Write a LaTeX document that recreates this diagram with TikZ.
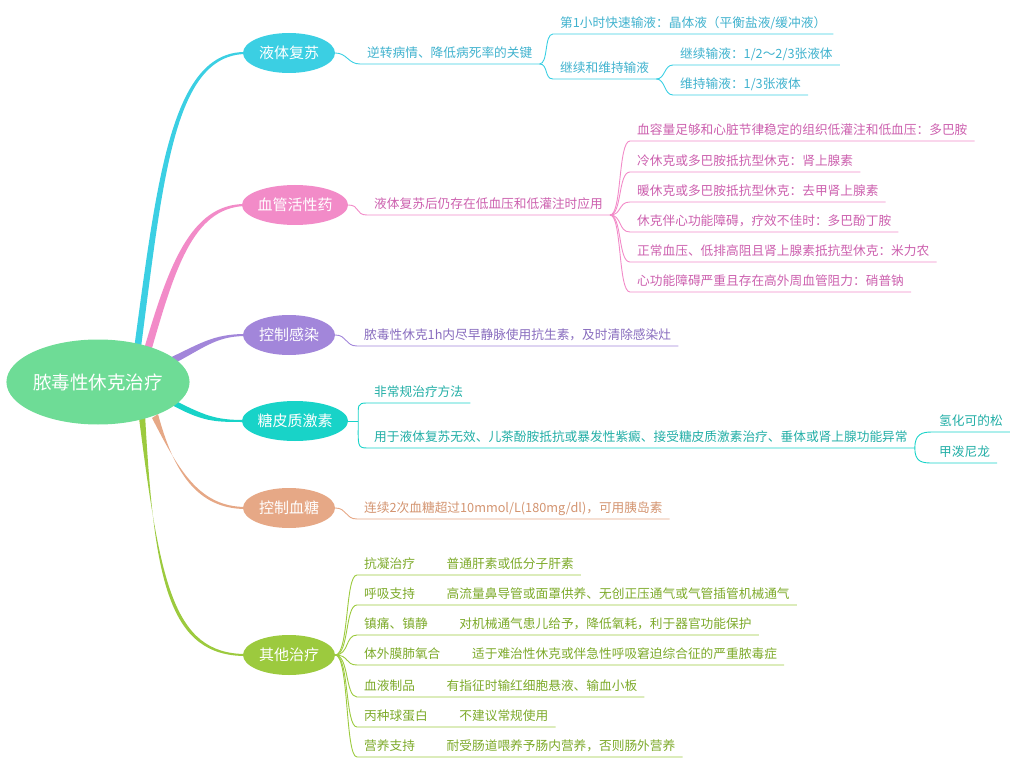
\documentclass[tikz,border=0pt]{standalone}
\usepackage{fontspec}
\setmainfont{Noto Sans CJK SC}
\usepackage{tikz}
\usepackage{xcolor}
\usetikzlibrary{shapes.geometric,calc,backgrounds}

\definecolor{rootC}{HTML}{6EDC96}
\definecolor{cyanC}{HTML}{3BCFE3}
\definecolor{cyanT}{HTML}{40B2CE}
\definecolor{pinkC}{HTML}{F28BC8}
\definecolor{pinkT}{HTML}{CC60AE}
\definecolor{purpC}{HTML}{A286DA}
\definecolor{purpT}{HTML}{886CBE}
\definecolor{tealC}{HTML}{18D3C8}
\definecolor{tealT}{HTML}{22AEA6}
\definecolor{salmC}{HTML}{E6A886}
\definecolor{salmT}{HTML}{D39470}
\definecolor{grenC}{HTML}{9CCA3E}
\definecolor{grenT}{HTML}{7DAA2A}

\begin{document}
\begin{tikzpicture}[x=1pt,y=-1pt]
    % Define node shapes
    \tikzstyle{root}=[ellipse, fill=rootC, text=white, inner sep=0pt, minimum width=170pt, minimum height=85pt, font=\fontsize{18.5}{20}\selectfont]
    \tikzstyle{topic}=[ellipse, text=white, inner sep=0pt, minimum height=40pt, font=\fontsize{15}{17}\selectfont]
    \tikzstyle{leaf}=[anchor=south west, inner xsep=7pt, inner ysep=3pt, text height=10pt, text depth=3pt, font=\fontsize{12.7}{14}\selectfont]
    \tikzstyle{link}=[line width=0.9pt]
    \useasboundingbox (0,0) rectangle (1019,767);

    % Place root and topics
    \node[root] (root) at (98,382) {脓毒性休克治疗};
    \node[topic, fill=cyanC, minimum width=92pt] (t1) at (289,53) {液体复苏};
    \node[topic, fill=pinkC, minimum width=104pt] (t2) at (295,205) {血管活性药};
    \node[topic, fill=purpC, minimum width=92pt] (t3) at (289,335) {控制感染};
    \node[topic, fill=tealC, minimum width=104pt] (t4) at (295,421) {糖皮质激素};
    \node[topic, fill=salmC, minimum width=92pt] (t5) at (289,508) {控制血糖};
    \node[topic, fill=grenC, minimum width=92pt] (t6) at (289,655) {其他治疗};

    % Thick tapered branches
    \begin{scope}[on background layer]
        \coordinate (s1) at (137,352);
        \coordinate (s2) at (147,352);
        \coordinate (s3) at (165,364);
        \coordinate (s4) at (168,400);
        \coordinate (s5) at (155,416);
        \coordinate (s6) at (142,416);
        \fill[cyanC] ($(s1)+(-3,-3)$) .. controls (157,180) and (171,51) .. ($(t1.west)+(3,-1)$) -- ($(t1.west)+(3,1)$) .. controls (173,55) and (163,180) .. ($(s1)+(3,3)$) -- cycle;
        \fill[pinkC] ($(s2)+(-3,-3)$) .. controls (168,268) and (190,204) .. ($(t2.west)+(3,-1)$) -- ($(t2.west)+(3,1)$) .. controls (192,208) and (174,272) .. ($(s2)+(3,3)$) -- cycle;
        \fill[purpC] ($(s3)+(-2,-3)$) .. controls (200,344) and (212,334) .. ($(t3.west)+(3,-1)$) -- ($(t3.west)+(3,1)$) .. controls (214,336) and (202,350) .. ($(s3)+(2,3)$) -- cycle;
        \fill[tealC] ($(s4)+(0,-3)$) .. controls (205,416) and (215,420) .. ($(t4.west)+(3,-1)$) -- ($(t4.west)+(3,1)$) .. controls (213,422) and (203,422) .. ($(s4)+(0,3)$) -- cycle;
        \fill[salmC] ($(s5)+(-3,2)$) .. controls (178,468) and (198,507) .. ($(t5.west)+(3,-1)$) -- ($(t5.west)+(3,1)$) .. controls (196,509) and (173,470) .. ($(s5)+(3,-2)$) -- cycle;
        \fill[grenC] ($(s6)+(-3,2)$) .. controls (160,580) and (172,654) .. ($(t6.west)+(3,-1)$) -- ($(t6.west)+(3,1)$) .. controls (168,656) and (154,580) .. ($(s6)+(3,-2)$) -- cycle;
    \end{scope}

    % Place fluid leaves
    \node[leaf, text=cyanT] (f1) at (360,64) {逆转病情、降低病死率的关键};
    \node[leaf, text=cyanT] (f2) at (553,34) {第1小时快速输液：晶体液（平衡盐液/缓冲液）};
    \node[leaf, text=cyanT] (f3) at (553,79) {继续和维持输液};
    \node[leaf, text=cyanT] (f4) at (673,65) {继续输液：1/2～2/3张液体};
    \node[leaf, text=cyanT] (f5) at (673,95) {维持输液：1/3张液体};

    % Place vasoactive leaves
    \node[leaf, text=pinkT] (v0) at (367,215) {液体复苏后仍存在低血压和低灌注时应用};
    \node[leaf, text=pinkT] (v1) at (630,141) {血容量足够和心脏节律稳定的组织低灌注和低血压：多巴胺};
    \node[leaf, text=pinkT] (v2) at (630,172) {冷休克或多巴胺抵抗型休克：肾上腺素};
    \node[leaf, text=pinkT] (v3) at (630,202) {暖休克或多巴胺抵抗型休克：去甲肾上腺素};
    \node[leaf, text=pinkT] (v4) at (630,232) {休克伴心功能障碍，疗效不佳时：多巴酚丁胺};
    \node[leaf, text=pinkT] (v5) at (630,262) {正常血压、低排高阻且肾上腺素抵抗型休克：米力农};
    \node[leaf, text=pinkT] (v6) at (630,292) {心功能障碍严重且存在高外周血管阻力：硝普钠};

    % Place infection, steroid and glucose leaves
    \node[leaf, text=purpT] (i1) at (357,346) {脓毒性休克1h内尽早静脉使用抗生素，及时清除感染灶};
    \node[leaf, text=tealT] (g1) at (367,403) {非常规治疗方法};
    \node[leaf, text=tealT] (g2) at (367,448) {用于液体复苏无效、儿茶酚胺抵抗或暴发性紫癜、接受糖皮质激素治疗、垂体或肾上腺功能异常};
    \node[leaf, text=tealT] (g3) at (932,432) {氢化可的松};
    \node[leaf, text=tealT] (g4) at (932,463) {甲泼尼龙};
    \node[leaf, text=salmT] (b1) at (357,519) {连续2次血糖超过10mmol/L(180mg/dl)，可用胰岛素};

    % Place other treatment leaves
    \node[leaf, text=grenT] (o1) at (357,575) {抗凝治疗\hspace{2.5em}普通肝素或低分子肝素};
    \node[leaf, text=grenT] (o2) at (357,605) {呼吸支持\hspace{2.5em}高流量鼻导管或面罩供养、无创正压通气或气管插管机械通气};
    \node[leaf, text=grenT] (o3) at (357,635) {镇痛、镇静\hspace{2.5em}对机械通气患儿给予，降低氧耗，利于器官功能保护};
    \node[leaf, text=grenT] (o4) at (357,665) {体外膜肺氧合\hspace{2.5em}适于难治性休克或伴急性呼吸窘迫综合征的严重脓毒症};
    \node[leaf, text=grenT] (o5) at (357,697) {血液制品\hspace{2.5em}有指征时输红细胞悬液、输血小板};
    \node[leaf, text=grenT] (o6) at (357,727) {丙种球蛋白\hspace{2.5em}不建议常规使用};
    \node[leaf, text=grenT] (o7) at (357,757) {营养支持\hspace{2.5em}耐受肠道喂养予肠内营养，否则肠外营养};

    % Connect fluid leaves
    \draw[link, cyanC] (t1.east) .. controls +(12,0) and +(-12,0) .. (f1.south west) -- (f1.south east);
    \draw[link, cyanC] (f1.south east) .. controls +(9,0) and +(-9,0) .. (f2.south west) -- (f2.south east);
    \draw[link, cyanC] (f1.south east) .. controls +(9,0) and +(-9,0) .. (f3.south west) -- (f3.south east);
    \draw[link, cyanC] (f3.south east) .. controls +(9,0) and +(-9,0) .. (f4.south west) -- (f4.south east);
    \draw[link, cyanC] (f3.south east) .. controls +(9,0) and +(-9,0) .. (f5.south west) -- (f5.south east);

    % Connect vasoactive leaves
    \draw[link, pinkC] (t2.east) .. controls +(12,0) and +(-12,0) .. (v0.south west) -- (v0.south east);
    \draw[link, pinkC] (v0.south east) .. controls +(12,0) and +(-12,0) .. (v1.south west) -- (v1.south east);
    \draw[link, pinkC] (v0.south east) .. controls +(12,0) and +(-12,0) .. (v2.south west) -- (v2.south east);
    \draw[link, pinkC] (v0.south east) .. controls +(12,0) and +(-12,0) .. (v3.south west) -- (v3.south east);
    \draw[link, pinkC] (v0.south east) .. controls +(12,0) and +(-12,0) .. (v4.south west) -- (v4.south east);
    \draw[link, pinkC] (v0.south east) .. controls +(12,0) and +(-12,0) .. (v5.south west) -- (v5.south east);
    \draw[link, pinkC] (v0.south east) .. controls +(12,0) and +(-12,0) .. (v6.south west) -- (v6.south east);

    % Connect infection, steroid and glucose leaves
    \draw[link, purpC] (t3.east) .. controls +(12,0) and +(-12,0) .. (i1.south west) -- (i1.south east);
    \draw[link, tealC] (t4.east) -- ++(10,0) coordinate (g0);
    \draw[link, tealC] (g0) .. controls +(0,-16) and +(-10,0) .. (g1.south west) -- (g1.south east);
    \draw[link, tealC] (g0) .. controls +(0,24) and +(-10,0) .. (g2.south west) -- (g2.south east);
    \draw[link, tealC] (g2.south east) .. controls +(0,-14) and +(-10,0) .. (g3.south west) -- (g3.south east);
    \draw[link, tealC] (g2.south east) .. controls +(0,14) and +(-10,0) .. (g4.south west) -- (g4.south east);
    \draw[link, salmC] (t5.east) .. controls +(12,0) and +(-12,0) .. (b1.south west) -- (b1.south east);

    % Connect other treatment leaves
    \draw[link, grenC] (t6.east) .. controls +(14,0) and +(-12,0) .. (o1.south west) -- (o1.south east);
    \draw[link, grenC] (t6.east) .. controls +(14,0) and +(-12,0) .. (o2.south west) -- (o2.south east);
    \draw[link, grenC] (t6.east) .. controls +(14,0) and +(-12,0) .. (o3.south west) -- (o3.south east);
    \draw[link, grenC] (t6.east) .. controls +(14,0) and +(-12,0) .. (o4.south west) -- (o4.south east);
    \draw[link, grenC] (t6.east) .. controls +(14,0) and +(-12,0) .. (o5.south west) -- (o5.south east);
    \draw[link, grenC] (t6.east) .. controls +(14,0) and +(-12,0) .. (o6.south west) -- (o6.south east);
    \draw[link, grenC] (t6.east) .. controls +(14,0) and +(-12,0) .. (o7.south west) -- (o7.south east);
\end{tikzpicture}
\end{document}
